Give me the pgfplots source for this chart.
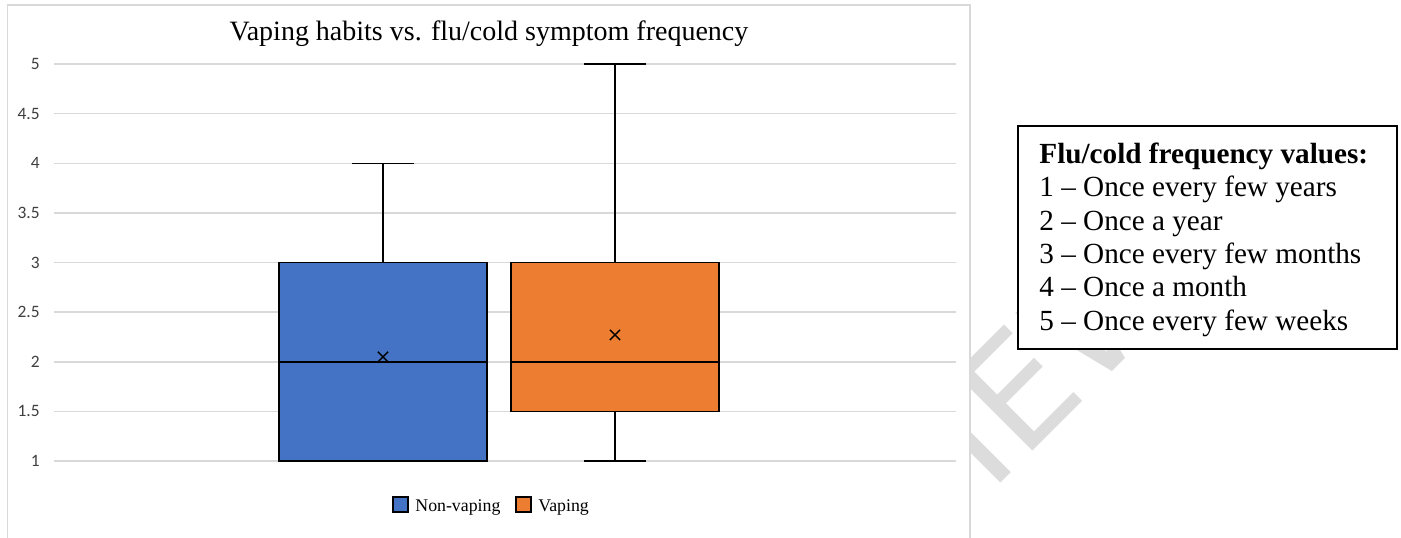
\documentclass[border=0pt]{standalone}
\usepackage{fontspec}
\setmainfont{Liberation Serif}
\newfontfamily\carlito{Carlito}
\newfontfamily\wmfont{DejaVu Sans}
\usepackage{pgfplots}
\pgfplotsset{compat=1.18}
\usepgfplotslibrary{statistics}
\definecolor{nvblue}{HTML}{4472C4}
\definecolor{vorange}{HTML}{ED7D31}
\definecolor{gridgray}{HTML}{D9D9D9}
\definecolor{wmgray}{HTML}{DCDCDC}
\definecolor{ticktext}{HTML}{404040}
\begin{document}
\begin{tikzpicture}
\path[use as bounding box] (0,0) rectangle (700.5pt,-268.5pt);
\begin{scope}[x=0.5pt,y=-0.5pt]
  % watermark (behind everything; only its last letters show)
  \node[rotate=45, anchor=base east, inner sep=0pt, text=wmgray, font=\wmfont\fontsize{75}{75}\selectfont] at (1022,462) {I};
  \node[rotate=45, anchor=base west, inner sep=0pt, text=wmgray, font=\wmfont\fontsize{75}{75}\selectfont] at (1022,462) {EW};
  % chart area
  \draw[gridgray, line width=0.75pt, fill=white] (7.5,5) rectangle (970,600);
\end{scope}
\begin{axis}[
  at={(27pt,-230.5pt)}, anchor=south west,
  width=451pt, height=198.5pt, scale only axis,
  xmin=0, xmax=9.02, ymin=1, ymax=5,
  xtick=\empty,
  ytick={1,1.5,2,2.5,3,3.5,4,4.5,5},
  yticklabels={1,1.5,2,2.5,3,3.5,4,4.5,5},
  yticklabel style={font=\carlito\fontsize{8.7}{10}\selectfont, text=ticktext, anchor=east, inner sep=0pt, xshift=-7pt},
  axis line style={draw=none},
  major tick style={draw=none},
  ymajorgrids, grid style={gridgray, line width=0.75pt},
  clip=false,
  boxplot/draw direction=y,
]
\addplot[fill=nvblue, draw=black, line width=0.75pt,
  boxplot prepared={draw position=3.29, lower whisker=1, lower quartile=1, median=2, upper quartile=3, upper whisker=4, box extend=2.08, whisker extend=0.62}]
  coordinates {};
\addplot[fill=vorange, draw=black, line width=0.75pt,
  boxplot prepared={draw position=5.61, lower whisker=1, lower quartile=1.5, median=2, upper quartile=3, upper whisker=5, box extend=2.08, whisker extend=0.62}]
  coordinates {};
\addplot[only marks, mark=x, mark size=3.6pt, black, mark options={line width=0.7pt}]
  coordinates {(3.29,2.05) (5.61,2.27)};
\end{axis}
\begin{scope}[x=0.5pt,y=-0.5pt]
  % title
  \node[anchor=base, inner sep=0pt, font=\fontsize{14}{16}\selectfont] at (489,40) {Vaping habits vs. flu/cold symptom frequency};
  % legend
  \draw[fill=nvblue, draw=black, line width=0.75pt] (393,497) rectangle (408,512);
  \node[anchor=base west, inner sep=0pt, font=\fontsize{8.9}{10}\selectfont] at (415,511) {Non-vaping};
  \draw[fill=vorange, draw=black, line width=0.75pt] (516,497) rectangle (531,512);
  \node[anchor=base west, inner sep=0pt, font=\fontsize{8.9}{10}\selectfont] at (538,511) {Vaping};
  % text box
  \draw[black, line width=1pt, fill=white] (1018,125.5) rectangle (1397,348.5);
  \begin{scope}[every node/.style={anchor=base west, inner sep=0pt, font=\fontsize{14.6}{16}\selectfont}]
    \node at (1039,163.3) {\textbf{Flu/cold frequency values:}};
    \node at (1039,196.7) {1 -- Once every few years};
    \node at (1039,230) {2 -- Once a year};
    \node at (1039,263.3) {3 -- Once every few months};
    \node at (1039,296.7) {4 -- Once a month};
    \node at (1039,330) {5 -- Once every few weeks};
  \end{scope}
\end{scope}
\end{tikzpicture}
\end{document}
